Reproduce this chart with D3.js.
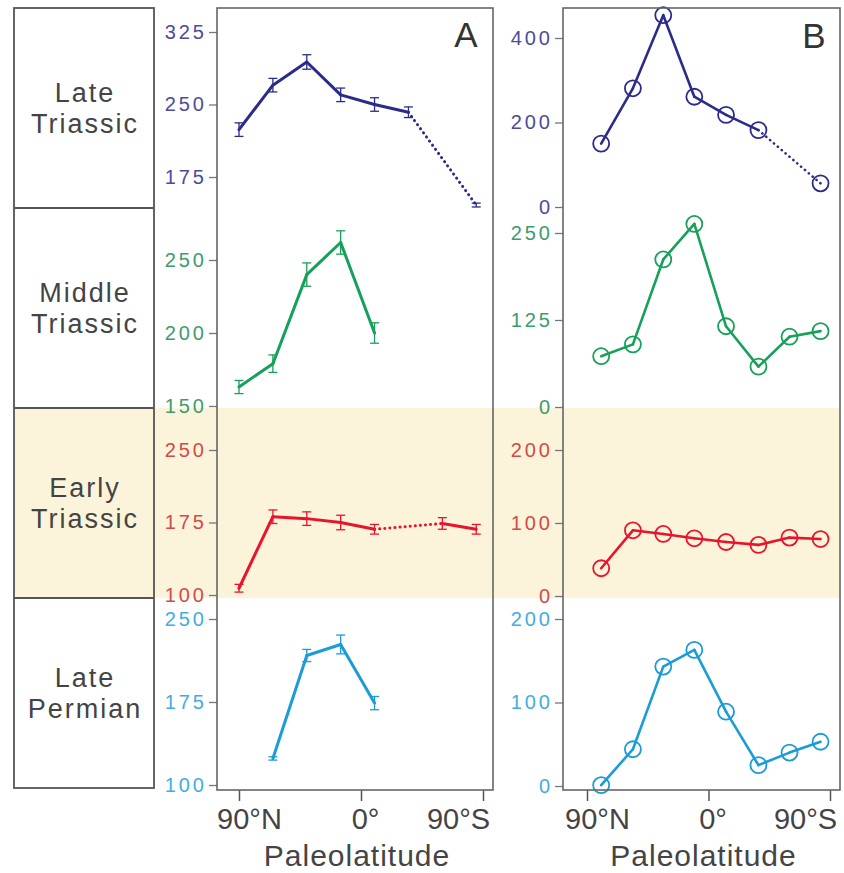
<!DOCTYPE html>
<html>
<head>
<meta charset="utf-8">
<script src="https://cdn.jsdelivr.net/npm/d3@7"></script>
<style>
  body { margin: 0; background: #fff; }
  text { font-family: Arial, "Liberation Sans", sans-serif; }
</style>
</head>
<body>
<svg id="mainsvg" width="844" height="873"></svg>
<script>
// ---- data ----
const rowNames = [['Late', 'Triassic'], ['Middle', 'Triassic'], ['Early', 'Triassic'], ['Late', 'Permian']];

// paleolatitude of the bins (A and B use slightly different positions)
const latA = [90, 65, 40, 15, -10, -35, -60, -85];
const latB = [79.5, 56, 33.5, 10.5, -13, -37, -60, -83];

// panel A: means with error bars
const lateTriassicA = [224, 270, 294, 260, 250, 242, null, 146];
const lateTriassicAErr = [7, 7, 7.5, 7, 7, 5.5, null, 2];
const middleTriassicA = [163, 179, 240, 262, 200, null, null, null];
const middleTriassicAErr = [4.5, 6, 8, 8, 7, null, null, null];
const earlyTriassicA = [107, 181, 179, 175, 168, null, 174, 168];
const earlyTriassicAErr = [4, 7, 7, 7.5, 5, null, 6, 5];
const latePermianA = [null, 124, 217, 227, 174, null, null, null];
const latePermianAErr = [null, 1.5, 5.5, 8.5, 6, null, null, null];

// panel B: counts
const lateTriassicB = [150, 281, 454, 261, 218, 182, null, 56];
const middleTriassicB = [73, 90, 212, 263, 116, 58, 101, 109];
const earlyTriassicB = [38, 90, 85, 79, 74, 70, 80, 78];
const latePermianB = [1, 44, 143, 163, 89, 25, 40, 53];

const ticksA = [[175, 250, 325], [150, 200, 250], [100, 175, 250], [100, 175, 250]];
const ticksB = [[0, 200, 400], [0, 125, 250], [0, 100, 200], [0, 100, 200]];
const xTickValues = [90, 0, -90];
const xTickLabels = ['90\u00B0N', '0\u00B0', '90\u00B0S'];

const seriesA = [lateTriassicA, middleTriassicA, earlyTriassicA, latePermianA];
const errA = [lateTriassicAErr, middleTriassicAErr, earlyTriassicAErr, latePermianAErr];
const seriesB = [lateTriassicB, middleTriassicB, earlyTriassicB, latePermianB];

// ---- styling / layout ----
const lineColors = ['#2b2c8a', '#17a05a', '#e8142c', '#1b9bd8'];
const labelColors = ['#4b4b9c', '#3c9c6c', '#d24a4a', '#40aee0'];
const xLabelShift = [10, 4, -25]; // end labels are pulled inside the frame

const svg = d3.select('#mainsvg');
const rowBands = [[8, 208], [208, 408], [408, 598], [598, 788]];
const box = {x0: 14, x1: 154};

// y pixel positions of first/last tick in each row
const yRangeA = [[177, 32], [406, 260], [595, 450], [785, 619]];
const yRangeB = [[207, 38], [407, 233], [596, 450], [786, 619]];

const panels = [
  {name: 'A', x0: 217, x1: 493, y0: 8, y1: 790, xr: [239, 483], lat: latA, series: seriesA, err: errA, ticks: ticksA, yr: yRangeA, lx: 466, ly: 47},
  {name: 'B', x0: 563, x1: 840, y0: 8, y1: 790, xr: [587, 830], lat: latB, series: seriesB, err: null, ticks: ticksB, yr: yRangeB, lx: 814, ly: 48}
];

// yellow band for Early Triassic
svg.append('rect')
  .attr('x', box.x0).attr('y', rowBands[2][0])
  .attr('width', 840 - box.x0).attr('height', rowBands[2][1] - rowBands[2][0])
  .attr('fill', '#fbf4da');

// left label box
svg.append('rect')
  .attr('x', box.x0).attr('y', rowBands[0][0])
  .attr('width', box.x1 - box.x0).attr('height', rowBands[3][1] - rowBands[0][0])
  .attr('fill', 'none').attr('stroke', '#555').attr('stroke-width', 1.8);

rowBands.slice(1).forEach(b => {
  svg.append('line')
    .attr('x1', box.x0).attr('x2', box.x1).attr('y1', b[0]).attr('y2', b[0])
    .attr('stroke', '#555').attr('stroke-width', 2);
});

rowNames.forEach((n, i) => {
  const cy = (rowBands[i][0] + rowBands[i][1]) / 2;
  const t = svg.append('text')
    .attr('text-anchor', 'middle')
    .attr('fill', '#444')
    .style('font-size', '27px')
    .style('letter-spacing', '2px');
  t.append('tspan').attr('x', 85).attr('y', cy - 6).text(n[0]);
  t.append('tspan').attr('x', 85).attr('y', cy + 25).text(n[1]);
});

panels.forEach(p => {
  const g = svg.append('g');

  // frame background (white except yellow band)
  g.append('rect')
    .attr('x', p.x0).attr('y', p.y0)
    .attr('width', p.x1 - p.x0).attr('height', rowBands[2][0] - p.y0)
    .attr('fill', '#fff');
  g.append('rect')
    .attr('x', p.x0).attr('y', rowBands[3][0])
    .attr('width', p.x1 - p.x0).attr('height', p.y1 - rowBands[3][0])
    .attr('fill', '#fff');

  const xScale = d3.scaleLinear().domain([90, -90]).range(p.xr);

  // x axis
  const xAxis = g.append('g')
    .attr('transform', `translate(0, ${p.y1})`)
    .call(d3.axisBottom(xScale).tickValues(xTickValues).tickSize(11).tickPadding(7)
      .tickFormat((d, i) => xTickLabels[i]));
  xAxis.select('.domain').remove();
  xAxis.selectAll('line').attr('stroke', '#555').attr('stroke-width', 1.5);
  xAxis.selectAll('text').attr('fill', '#444').style('font-size', '29px')
    .attr('dx', (d, i) => xLabelShift[i]);

  g.append('text')
    .attr('x', (p.x0 + p.x1) / 2 + 2).attr('y', 866)
    .attr('text-anchor', 'middle').attr('fill', '#444')
    .style('font-size', '30px').style('letter-spacing', '1px')
    .text('Paleolatitude');

  p.series.forEach((vals, r) => {
    const tk = p.ticks[r];
    const yScale = d3.scaleLinear().domain([tk[0], tk[tk.length - 1]]).range(p.yr[r]);

    const yAxis = g.append('g')
      .attr('transform', `translate(${p.x0}, 0)`)
      .call(d3.axisLeft(yScale).tickValues(tk).tickSize(8).tickPadding(2));
    yAxis.select('.domain').remove();
    yAxis.selectAll('line').attr('stroke', '#777').attr('stroke-width', 1.3);
    yAxis.selectAll('text').attr('fill', labelColors[r])
      .style('font-size', '20px').style('letter-spacing', '3px');

    const pts = vals.map((v, i) => ({i: i, lat: p.lat[i], v: v, e: p.err ? p.err[r][i] : null}))
      .filter(d => d.v != null);

    const line = d3.line().x(d => xScale(d.lat)).y(d => yScale(d.v));

    // segments: solid between neighbouring bins, dotted across a gap
    for (let k = 0; k < pts.length - 1; k++) {
      const a = pts[k], b = pts[k + 1];
      const gap = b.i - a.i > 1;
      g.append('path')
        .attr('d', line([a, b]))
        .attr('fill', 'none')
        .attr('stroke', lineColors[r])
        .attr('stroke-width', p.name === 'A' ? 3 : 2.6)
        .attr('stroke-linecap', 'round')
        .attr('stroke-dasharray', gap ? '0.1,5' : null);
    }

    if (p.err) {
      const eb = g.selectAll(null).data(pts).join('g');
      eb.append('line')
        .attr('x1', d => xScale(d.lat)).attr('x2', d => xScale(d.lat))
        .attr('y1', d => yScale(d.v - d.e)).attr('y2', d => yScale(d.v + d.e))
        .attr('stroke', lineColors[r]).attr('stroke-width', 1.3);
      [-1, 1].forEach(s => {
        eb.append('line')
          .attr('x1', d => xScale(d.lat) - 4.5).attr('x2', d => xScale(d.lat) + 4.5)
          .attr('y1', d => yScale(d.v + s * d.e)).attr('y2', d => yScale(d.v + s * d.e))
          .attr('stroke', lineColors[r]).attr('stroke-width', 1.3);
      });
    } else {
      g.selectAll(null).data(pts).join('circle')
        .attr('cx', d => xScale(d.lat)).attr('cy', d => yScale(d.v))
        .attr('r', 8)
        .attr('fill', 'none')
        .attr('stroke', lineColors[r]).attr('stroke-width', 1.8);
    }
  });

  // frame
  g.append('rect')
    .attr('x', p.x0).attr('y', p.y0)
    .attr('width', p.x1 - p.x0).attr('height', p.y1 - p.y0)
    .attr('fill', 'none').attr('stroke', '#666').attr('stroke-width', 1.6);

  g.append('text')
    .attr('x', p.lx).attr('y', p.ly)
    .attr('text-anchor', 'middle').attr('fill', '#333')
    .style('font-size', '35px')
    .text(p.name);
});
</script>
</body>
</html>
